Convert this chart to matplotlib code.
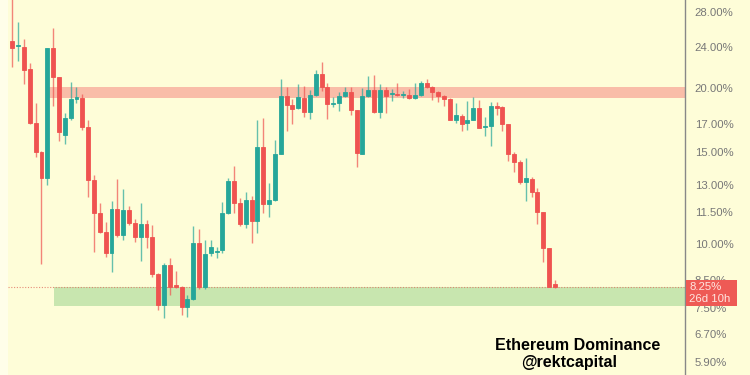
import numpy as np
import matplotlib
matplotlib.use("Agg")
import matplotlib.pyplot as plt
from matplotlib.patches import Rectangle

# weekly candles, ETH dominance in %
OPEN = [24.6, 24.07, 23.97, 21.7, 17.1, 15.03, 13.39, 23.86, 20.97, 16.21,
        17.48, 19.05, 19.11, 16.80, 13.27, 11.46, 10.54, 9.59, 11.66, 10.39,
        11.61, 10.97, 10.30, 10.92, 10.30, 8.74, 7.61, 9.10, 8.32, 8.25,
        7.54, 7.82, 10.03, 8.25, 9.59, 9.63, 9.72, 11.46, 13.21, 11.98,
        10.92, 12.14, 11.06, 15.36, 11.93, 12.14, 14.90, 19.28, 18.52, 18.27,
        19.11, 17.95, 19.36, 21.26, 20.06, 18.64, 18.68, 19.28, 19.62, 18.11,
        14.90, 19.28, 19.80, 17.95, 19.80, 19.45, 19.45, 19.36, 19.36, 19.11,
        19.36, 20.42, 20.06, 19.62, 19.28, 19.02, 17.33, 17.64, 17.10, 17.33,
        18.27, 16.80, 16.87, 18.44, 18.35, 17.03, 14.90, 14.37, 13.15, 13.33,
        12.58, 11.51, 9.81, 8.36]
HIGH = [30.0, 26.8, 24.8, 22.3, 18.7, 15.1, 23.9, 26.1, 21.0, 17.88,
        20.52, 20.06, 19.45, 17.33, 13.57, 11.98, 11.01, 12.09, 13.33, 12.75,
        11.82, 11.16, 11.98, 11.11, 10.87, 8.78, 9.18, 9.38, 8.86, 8.30,
        7.96, 10.82, 10.68, 10.16, 10.16, 9.85, 12.03, 13.39, 14.13, 12.25,
        12.58, 12.36, 17.33, 17.48, 13.09, 15.85, 20.79, 20.06, 19.02, 20.33,
        20.15, 19.80, 21.64, 22.42, 20.42, 19.19, 19.62, 20.06, 20.06, 18.15,
        19.98, 21.07, 21.16, 20.33, 20.06, 19.89, 20.42, 19.71, 19.89, 20.42,
        20.61, 20.79, 20.15, 19.71, 19.36, 19.10, 18.68, 17.80, 18.86, 19.19,
        18.94, 17.56, 18.77, 18.77, 18.44, 17.05, 15.03, 14.50, 14.63, 13.45,
        12.81, 11.52, 9.82, 8.51]
LOW = [21.9, 22.5, 20.3, 17.0, 14.7, 9.14, 12.98, 18.44, 15.78, 15.57,
       17.33, 18.68, 16.57, 12.30, 9.63, 10.50, 9.43, 8.82, 10.30, 10.16,
       10.87, 10.07, 9.26, 9.81, 8.62, 7.45, 7.18, 7.96, 8.22, 7.28,
       7.22, 7.78, 8.17, 8.17, 9.45, 9.38, 9.59, 11.40, 11.46, 10.82,
       10.73, 10.03, 10.49, 11.46, 11.26, 12.10, 14.88, 16.50, 17.03, 18.20,
       17.56, 17.41, 19.30, 19.71, 17.41, 18.35, 18.03, 19.20, 17.72, 14.06,
       14.88, 19.20, 17.88, 17.48, 17.88, 18.86, 19.28, 19.11, 19.02, 19.02,
       19.30, 19.98, 18.94, 18.77, 18.44, 17.30, 17.10, 16.50, 16.57, 17.30,
       16.70, 16.14, 15.43, 17.72, 16.50, 14.44, 13.75, 13.04, 12.09, 12.30,
       10.92, 9.22, 8.23, 8.22]
CLOSE = [23.9, 24.2, 21.64, 17.1, 15.03, 13.39, 23.86, 20.97, 16.42, 17.48,
         19.02, 19.15, 16.80, 13.27, 11.46, 10.54, 9.59, 11.66, 10.39, 11.61,
         10.97, 10.30, 10.92, 10.30, 8.74, 7.61, 9.10, 8.25, 8.25, 7.54,
         7.82, 10.03, 8.25, 9.55, 9.85, 9.68, 11.46, 13.21, 11.98, 10.92,
         12.14, 11.06, 15.36, 11.93, 12.14, 14.90, 19.28, 18.52, 18.19, 19.19,
         17.95, 19.36, 21.26, 20.06, 18.60, 18.68, 19.28, 19.62, 18.11, 14.96,
         19.28, 19.80, 17.95, 19.80, 19.28, 19.53, 19.36, 19.45, 19.11, 19.36,
         20.42, 20.06, 19.62, 19.28, 19.02, 17.33, 17.72, 17.03, 17.33, 18.27,
         16.73, 16.87, 18.44, 18.27, 17.03, 14.90, 14.37, 13.15, 13.39, 12.58,
         11.51, 9.81, 8.25, 8.25]

LAST_PRICE = 8.25
COUNTDOWN = "26d 10h"
RESIST_ZONE = (19.08, 20.10)
SUPPORT_ZONE = (7.58, 8.25)
Y_TICKS = [28, 24, 20, 17, 15, 13, 11.5, 10, 8.5, 7.5, 6.7, 5.9]
TITLE = "Ethereum Dominance"
HANDLE = "@rektcapital"

UP = "#26A69A"
DOWN = "#EF5350"
BG = "#FEFDD8"

o = np.array(OPEN)
h = np.array(HIGH)
l = np.array(LOW)
c = np.array(CLOSE)
x = np.arange(len(o))
cols = np.where(c >= o, UP, DOWN)

fig = plt.figure(figsize=(7.5, 3.75), dpi=100, facecolor=BG)
# plot area spans pixels 0..685 horizontally, full height
ax = fig.add_axes([0.0, 0.0, 685 / 750, 1.0])
ax.set_facecolor(BG)
ax.set_yscale("log")
ax.set_ylim(5.578, 29.53)
ax.set_xlim(-2.11, 115.29)

# zones
ax.axhspan(*RESIST_ZONE, xmin=(6.34 + 2.11) / 117.4, xmax=1.0,
           color="#F8A898", alpha=0.75, lw=0, zorder=1)
ax.axhspan(*SUPPORT_ZONE, xmin=(7.15 + 2.11) / 117.4, xmax=1.0,
           color="#BFE3A8", alpha=0.85, lw=0, zorder=1)
ax.axhline(LAST_PRICE, xmin=(8 / 685), xmax=1.0, color="#E07060",
           lw=0.8, ls=(0, (1, 1.5)), alpha=0.8, zorder=2)

# candles
ax.vlines(x, l, h, colors=cols, lw=1.0, alpha=0.7, zorder=3)
ax.bar(x, np.abs(c - o), bottom=np.minimum(o, c), width=0.68,
       color=cols, edgecolor=cols, linewidth=0.6, zorder=4)

# right price scale
ax.yaxis.tick_right()
ax.set_yticks(Y_TICKS)
ax.set_yticklabels([f"{v:.2f}%" for v in Y_TICKS])
ax.yaxis.set_minor_locator(matplotlib.ticker.NullLocator())
ax.tick_params(axis="y", length=0, pad=7, labelsize=8.2, labelcolor="#777777")
for lab in ax.get_yticklabels():
    lab.set_family("Liberation Sans")
ax.set_xticks([])
for side in ["top", "left", "bottom"]:
    ax.spines[side].set_visible(False)
ax.spines["right"].set_color("#888888")
ax.spines["right"].set_linewidth(1.0)

# lighter strip at the very left edge
fig.add_artist(Rectangle((0, 0), 8 / 750, 1, transform=fig.transFigure,
                         facecolor="#FFFEE9", edgecolor="none", zorder=0.5))

# last price tag (covers most of the 8.50% label, as in the source)
fig.add_artist(Rectangle((686 / 750, (375 - 306) / 375), 51 / 750, 26 / 375,
                         transform=fig.transFigure, facecolor="#EE5A55",
                         edgecolor="none", zorder=5))
fig.text(689 / 750, (375 - 287) / 375, f"{LAST_PRICE:.2f}%", color="#FFE6E0",
         fontsize=8.2, family="Liberation Sans", ha="left", va="center", zorder=6)
fig.text(689 / 750, (375 - 299) / 375, COUNTDOWN, color="#FFE6E0",
         fontsize=8.2, family="Liberation Sans", ha="left", va="center", zorder=6)

# watermark
fig.text(578 / 750, (375 - 346) / 375, TITLE, color="black", fontsize=11.5,
         fontweight="bold", family="Liberation Sans", ha="center", va="center")
fig.text(569 / 750, (375 - 362) / 375, HANDLE, color="black", fontsize=11.5,
         fontweight="bold", family="Liberation Sans", ha="center", va="center")

fig.savefig("out.png", dpi=100, facecolor=BG)
